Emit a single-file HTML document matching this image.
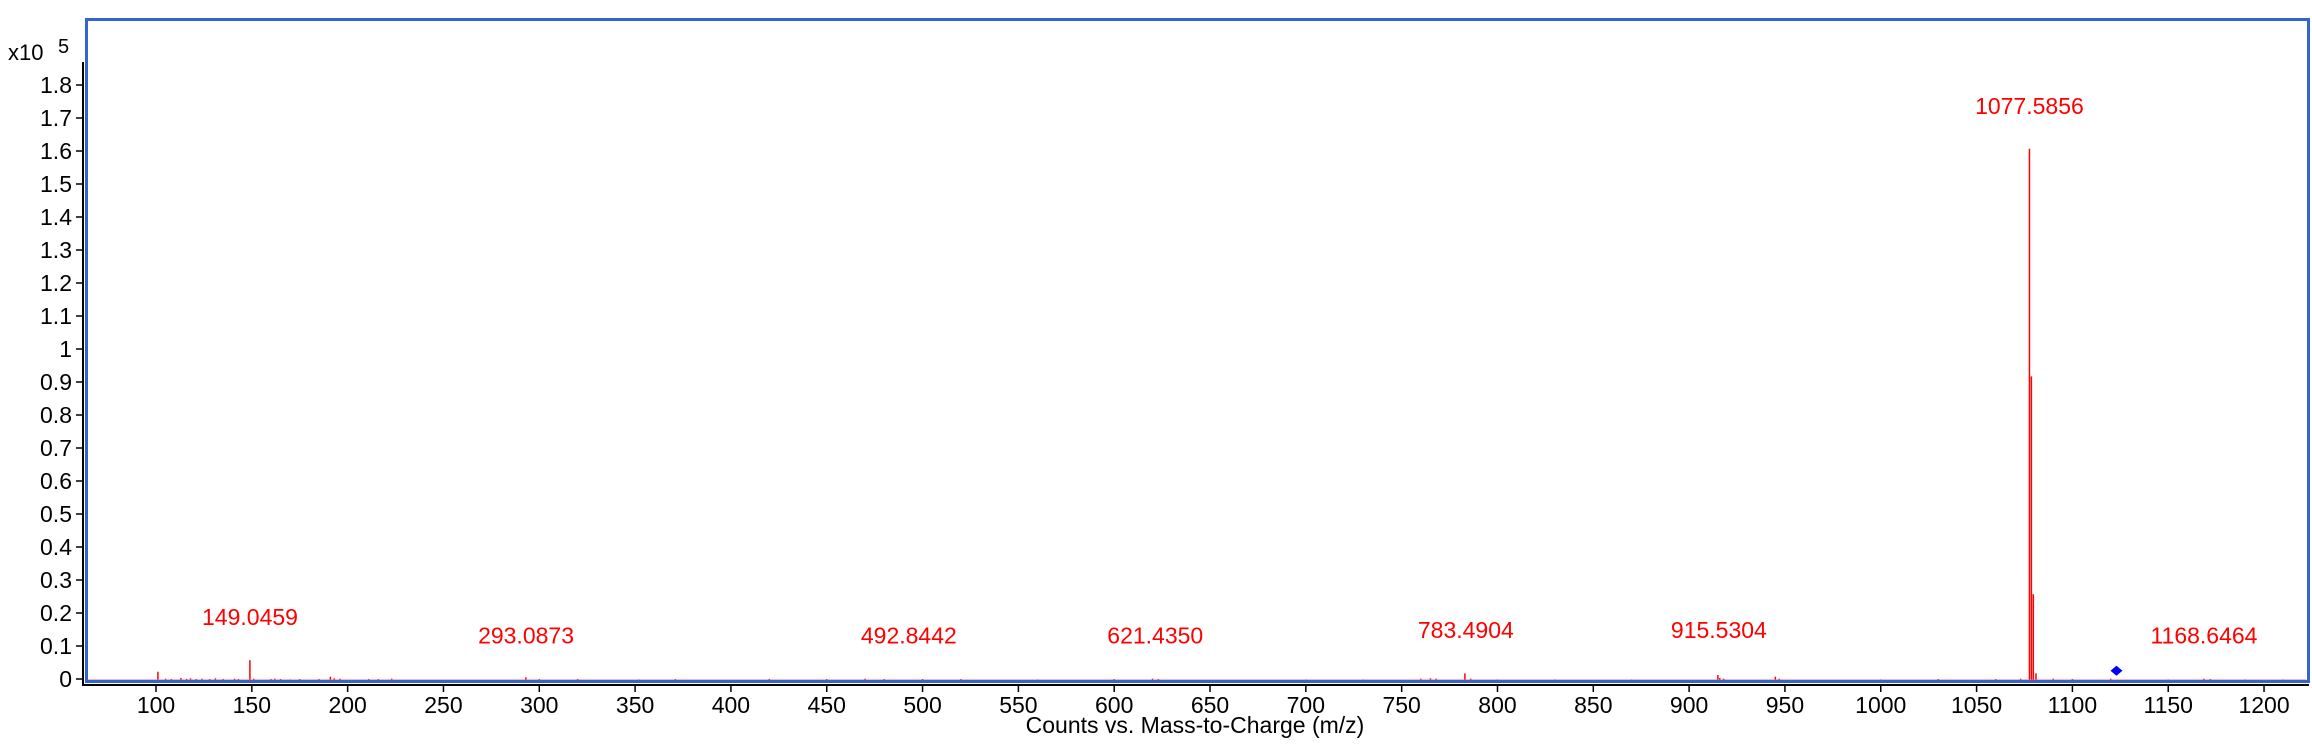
<!DOCTYPE html>
<html><head><meta charset="utf-8"><style>
html,body{margin:0;padding:0;background:#fff;}
svg{display:block;font-family:"Liberation Sans",Arial,sans-serif;}
</style></head><body>
<svg id="chart" width="2312" height="746" viewBox="0 0 2312 746" xmlns="http://www.w3.org/2000/svg">
<g id="axes"></g>
<g id="peaks"></g>
<g id="labels"></g>
<rect x="86.5" y="19.5" width="2222" height="662" fill="none" stroke="#3366cc" stroke-width="3"/>
<text x="8" y="60" font-size="22">x10</text>
<text x="58" y="53" font-size="20">5</text>
<text x="1195" y="733" font-size="23" text-anchor="middle">Counts vs. Mass-to-Charge (m/z)</text>
</svg>
<script>
const mzValues = [101,105,108,113,116,118,121,124,128,131,135,141,143,149,151,160,162,165,170,175,185,191,193,196,211,216,223,293,300,320,352,371,420,450,470,480,500,520,560,600,620,623,700,730,760,765,768,783,786,800,830,870,915,916,918,945,947,1000,1030,1060,1073,1077.59,1078.6,1079.6,1081,1090,1100,1120,1150,1168.6,1172,1190,1210];
const intensities = [0.025,0.004,0.003,0.006,0.003,0.005,0.003,0.004,0.003,0.005,0.003,0.004,0.003,0.06,0.004,0.003,0.004,0.003,0.002,0.003,0.003,0.01,0.005,0.004,0.003,0.003,0.004,0.008,0.003,0.003,0.002,0.003,0.003,0.003,0.004,0.003,0.003,0.003,0.002,0.003,0.004,0.003,0.002,0.002,0.004,0.005,0.004,0.02,0.004,0.002,0.002,0.002,0.015,0.006,0.004,0.01,0.004,0.002,0.003,0.003,0.004,1.61,0.92,0.26,0.02,0.004,0.003,0.004,0.002,0.004,0.003,0.002,0.002];
const labelMz = [149.0459,293.0873,492.8442,621.4350,783.4904,915.5304,1077.5856,1168.6464];
const labelY = [0.167,0.11,0.11,0.11,0.127,0.127,1.715,0.11];
const labelText = ["149.0459","293.0873","492.8442","621.4350","783.4904","915.5304","1077.5856","1168.6464"];
const xTicks = [100,150,200,250,300,350,400,450,500,550,600,650,700,750,800,850,900,950,1000,1050,1100,1150,1200];
const yTicks = [0,0.1,0.2,0.3,0.4,0.5,0.6,0.7,0.8,0.9,1,1.1,1.2,1.3,1.4,1.5,1.6,1.7,1.8];
const markerMz = [1123];
const markerVal = [0.025];

const NS="http://www.w3.org/2000/svg";
const xs = v => 156 + (v-100)*1.9164;
const ys = v => 680 - v*330;
function mk(tag, attrs, parent){const e=document.createElementNS(NS,tag);for(const k in attrs)e.setAttribute(k,attrs[k]);parent.appendChild(e);return e;}
const axes=document.getElementById('axes'), peaks=document.getElementById('peaks'), labels=document.getElementById('labels');

let l=mk('line',{x1:83,y1:62,x2:83,y2:686,stroke:'#000','stroke-width':2},axes);


l=mk('line',{x1:83,y1:685,x2:2309,y2:685,stroke:'#000','stroke-width':2},axes);



yTicks.forEach(v=>{
  const y=ys(v)-1;
  const t=mk('line',{x1:76,y1:y,x2:83,y2:y,stroke:'#000','stroke-width':1.5},axes);
  
  
  const tx=mk('text',{x:72,y:y+8,'font-size':23,'text-anchor':'end'},axes);
  
  
  tx.textContent=String(v);
});
xTicks.forEach(v=>{
  const x=xs(v);
  const t=mk('line',{x1:x,y1:685,x2:x,y2:692,stroke:'#000','stroke-width':1.5},axes);
  
  
  const tx=mk('text',{x:x,y:713,'font-size':23,'text-anchor':'middle'},axes);
  
  
  tx.textContent=String(v);
});
mzValues.forEach((m,i)=>{
  const x=xs(m);
  const p=mk('line',{x1:x,y1:ys(0),x2:x,y2:ys(intensities[i]),stroke:'#ff0000','stroke-width':1.5},peaks);
  
  
});
const base=mk('line',{x1:xs(63.5),y1:ys(0),x2:xs(1222),y2:ys(0),stroke:'#ff6666','stroke-width':1},peaks);


labelMz.forEach((m,i)=>{
  const tx=mk('text',{x:xs(m),y:ys(labelY[i]),'font-size':23,'text-anchor':'middle',fill:'#ff0000'},labels);
  
  
  tx.textContent=labelText[i];
});
markerMz.forEach((m,i)=>{
  const x=xs(m), y=ys(markerVal[i])-1;
  const d=mk('polygon',{points:`${x-6},${y} ${x},${y-5} ${x+6},${y} ${x},${y+5}`,fill:'#0000ff'},labels);
  
  
});
</script>
</body></html>
